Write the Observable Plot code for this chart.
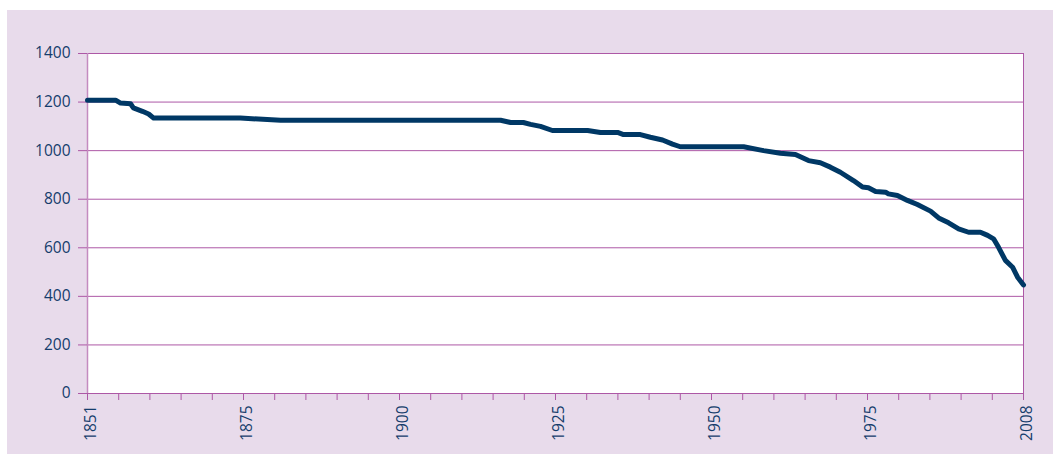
<!DOCTYPE html>
<html>
<head>
<meta charset="utf-8">
<script src="https://cdn.jsdelivr.net/npm/d3@7"></script>
<script src="https://cdn.jsdelivr.net/npm/@observablehq/plot@0.6"></script>
<style>
  html, body { margin: 0; padding: 0; background: #ffffff; }
  #frame { position: absolute; left: 7px; top: 10px; width: 1046px; height: 444px; background: #e8dbeb; }
  #frame svg text { font-size: 15.5px !important; font-family: 'Open Sans', sans-serif !important; }
</style>
</head>
<body>
<div id="frame"></div>
<script>
// Category position along the x axis (31 category ticks, 0..30) and the series value there
const position = [0, 0.9, 1.06, 1.38, 1.47, 1.76, 1.96, 2.12, 4.9, 6.19, 13.24, 13.56, 13.97, 14.2, 14.52, 14.9, 16.03, 16.44, 16.99, 17.18, 17.72, 18.04, 18.43, 18.75, 19.0, 21.03, 21.67, 22.21, 22.69, 23.11, 23.49, 23.81, 24.13, 24.55, 24.84, 25.03, 25.26, 25.58, 25.67, 25.96, 26.28, 26.6, 27.02, 27.28, 27.6, 27.92, 28.24, 28.62, 28.85, 29.04, 29.2, 29.42, 29.65, 29.81, 30];
const value = [1208, 1208, 1196, 1193, 1176, 1162, 1151, 1134, 1134, 1125, 1125, 1116, 1116, 1108, 1100, 1083, 1083, 1075, 1075, 1066, 1066, 1055, 1044, 1027, 1016, 1016, 1000, 989, 984, 959, 950, 932, 911, 877, 850, 847, 832, 829, 822, 815, 795, 778, 751, 723, 703, 678, 664, 664, 651, 637, 602, 548, 520, 479, 447];

const xTickPositions = d3.range(0, 31);
const xLabelPositions = [0, 5, 10, 15, 20, 25, 30];
const xTickLabels = ["1851", "1875", "1900", "1925", "1950", "1975", "2008"];
const yTicks = [0, 200, 400, 600, 800, 1000, 1200, 1400];

const data = position.map((p, i) => ({p, v: value[i]}));
const labelAt = new Map(xLabelPositions.map((p, i) => [p, xTickLabels[i]]));

const purple = "#ad58a6";
const textColor = "#153d6c";

const chart = Plot.plot({
  width: 1046,
  height: 444,
  marginLeft: 80,
  marginTop: 43,
  marginRight: 30,
  marginBottom: 61,
  style: {background: "transparent", fontFamily: "'Open Sans', sans-serif", fontSize: "15.5px", color: textColor},
  x: {domain: [0, 30], axis: null},
  y: {domain: [0, 1400], axis: null},
  marks: [
    Plot.frame({fill: "white", stroke: null}),
    Plot.ruleY(yTicks, {stroke: purple, strokeWidth: 1}),
    Plot.ruleX([0], {stroke: "#c48bc0", strokeWidth: 1.5}),
    Plot.ruleX([30], {stroke: purple, strokeWidth: 1}),
    Plot.axisY({ticks: yTicks, label: null, tickSize: 9, tickPadding: 8, stroke: purple, strokeOpacity: 1, fill: textColor, tickFormat: d => String(d)}),
    Plot.axisX({ticks: xTickPositions, label: null, tickSize: 7, stroke: purple, strokeOpacity: 1, tickFormat: () => ""}),
    Plot.axisX({ticks: xLabelPositions, label: null, tickSize: 0, tickPadding: 12, tickRotate: -90, dx: 4, fill: textColor, tickFormat: d => labelAt.get(d) ?? ""}),
    Plot.line(data, {x: "p", y: "v", stroke: "#003865", strokeWidth: 5, strokeLinejoin: "round", strokeLinecap: "round"})
  ]
});
document.getElementById("frame").appendChild(chart);
</script>
</body>
</html>
